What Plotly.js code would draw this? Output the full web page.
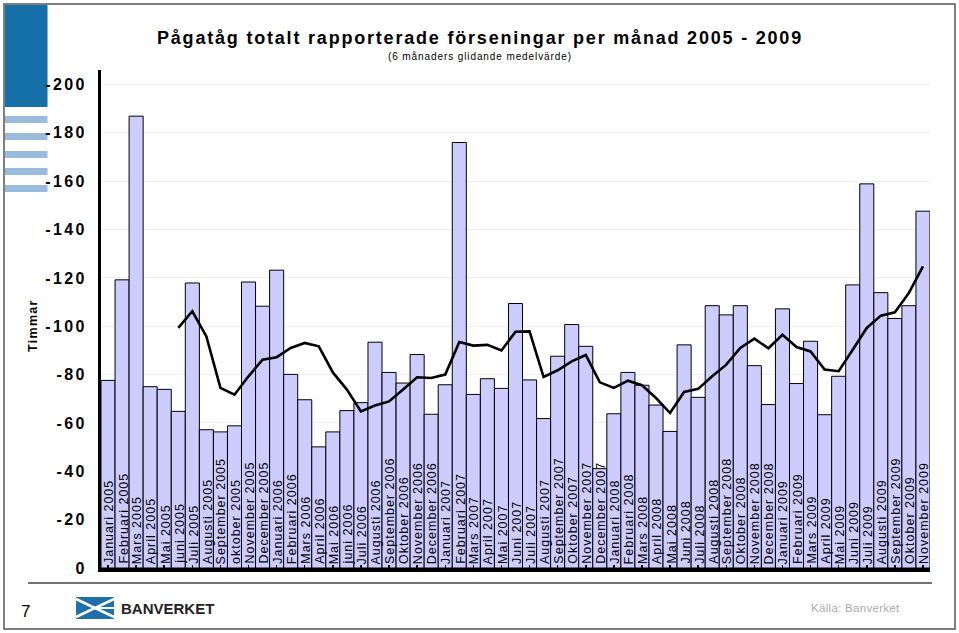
<!DOCTYPE html>
<html>
<head>
<meta charset="utf-8">
<script src="https://cdn.plot.ly/plotly-3.0.1.min.js"></script>
<style>
html,body{margin:0;padding:0;background:#fff;}
#chart{width:959px;height:633px;}
</style>
</head>
<body>
<div id="chart"></div>
<script>
const months = [
  "Januari 2005","Februari 2005","Mars 2005","April 2005","Mai 2005","juni 2005","Juli 2005","Augusti 2005","September 2005","oktober 2005","November 2005","December 2005",
  "Januari 2006","Februari 2006","Mars 2006","April 2006","Mai 2006","juni 2006","Juli 2006","Augusti 2006","September 2006","Oktober 2006","November 2006","December 2006",
  "Januari 2007","Februari 2007","Mars 2007","April 2007","Mai 2007","Juni 2007","Juli 2007","Augusti 2007","September 2007","Oktober 2007","November 2007","December 2007",
  "Januari 2008","Februari 2008","Mars 2008","April 2008","Mai 2008","Juni 2008","Juli 2008","Augusti 2008","September 2008","Oktober 2008","November 2008","December 2008",
  "Januari 2009","Februari 2009","Mars 2009","April 2009","Mai 2009","Juni 2009","Juli 2009","Augusti 2009","September 2009","Oktober 2009","November 2009"
];
const delayHours = [
  77.6,119.2,186.9,75.0,73.9,64.8,117.9,57.2,56.3,58.8,118.3,108.3,
  123.2,80.1,69.6,50.1,56.3,65.1,68.4,93.4,80.9,76.5,88.3,63.6,
  75.8,176.0,71.8,78.3,74.3,109.4,77.8,61.8,87.6,100.7,91.7,41.1,
  63.8,80.9,75.6,67.4,56.5,92.3,70.6,108.5,104.7,108.5,83.7,67.6,
  107.2,76.3,93.8,63.4,79.3,117.1,158.9,113.9,103.2,108.5,147.6
];
const movingAvg = [
  null,null,null,null,null,99.3,106.2,95.8,74.5,71.7,79.3,86.2,
  87.2,91.0,93.1,91.7,80.9,73.8,64.8,67.2,68.9,73.8,78.9,78.6,
  80.0,93.5,92.0,92.3,90.0,97.7,97.9,79.0,81.8,85.5,88.1,76.8,
  74.5,77.5,75.6,70.3,64.1,72.8,74.1,79.3,84.1,91.0,94.9,90.9,
  96.5,91.4,89.6,82.1,81.4,90.3,99.3,104.4,105.8,113.8,124.8
];
const yTickVals = [0,20,40,60,80,100,120,140,160,180,200];
const yTickText = ["0","-20","-40","-60","-80","-100","-120","-140","-160","-180","-200"];

const FONT = "Liberation Sans, Arial, sans-serif";
const W = 959, H = 633, L = 101, R = 29, T = 70, B = 65;
const PW = W - L - R, PH = H - T - B;
const px = v => (v - L) / PW;
const py = v => (H - B - v) / PH;
const ls = (t, s) => '<span style="letter-spacing:' + s + 'px">' + t + '</span>';

const bars = {
  type: 'bar',
  x: months,
  y: delayHours,
  marker: {color: '#ccccff', line: {color: '#000', width: 1}},
  hoverinfo: 'none'
};
const line = {
  type: 'scatter',
  mode: 'lines',
  x: months,
  y: movingAvg,
  line: {color: '#000', width: 2.6},
  connectgaps: false,
  hoverinfo: 'none'
};

const shapes = [
  {type:'rect', xref:'paper', yref:'paper', x0:px(4), x1:px(955), y0:py(4), y1:py(629), line:{color:'#555', width:1.5}, fillcolor:'rgba(0,0,0,0)', layer:'below'},
  {type:'rect', xref:'paper', yref:'paper', x0:px(5), x1:px(47.5), y0:py(5), y1:py(107), line:{width:0}, fillcolor:'#1570a8', layer:'below'},
  {type:'line', xref:'paper', yref:'paper', x0:px(28), x1:px(932), y0:py(583), y1:py(583), line:{color:'#444', width:1.5}},
  {type:'rect', xref:'paper', yref:'paper', x0:px(76), x1:px(114), y0:py(597), y1:py(619), line:{width:0}, fillcolor:'#1f70aa'},
  {type:'path', xref:'paper', yref:'paper', path:'M '+px(76)+','+py(599)+' L '+px(95)+','+py(608)+' L '+px(76)+','+py(617), line:{color:'#fff', width:2.5}},
  {type:'path', xref:'paper', yref:'paper', path:'M '+px(114)+','+py(599)+' L '+px(95)+','+py(608)+' L '+px(114)+','+py(617), line:{color:'#fff', width:2.5}},
  {type:'line', xref:'paper', yref:'paper', x0:px(95), x1:px(114), y0:py(608), y1:py(608), line:{color:'#fff', width:2}}
];
[[116,123],[133,140],[151,158],[168,175],[185,192]].forEach(s => {
  shapes.push({type:'rect', xref:'paper', yref:'paper', x0:px(5), x1:px(47.5), y0:py(s[0]), y1:py(s[1]), line:{width:0}, fillcolor:'#98bbde', layer:'below'});
});

const annotations = [
  {text: ls('(6 månaders glidande medelvärde)', 0.9), xref:'paper', yref:'paper', x:px(480), y:py(57), xanchor:'center', yanchor:'middle', showarrow:false, font:{family:FONT, size:10, color:'#000'}},
  {text: ls('Timmar', 1.3), xref:'paper', yref:'paper', x:px(33), y:py(326), xanchor:'center', yanchor:'middle', textangle:-90, showarrow:false, font:{family:FONT, size:12.5, color:'#000', weight:'bold'}},
  {text: '7', xref:'paper', yref:'paper', x:px(25), y:py(611), xanchor:'center', yanchor:'middle', showarrow:false, font:{family:FONT, size:17, color:'#000'}},
  {text: 'BANVERKET', xref:'paper', yref:'paper', x:px(119), y:py(608), xanchor:'left', yanchor:'middle', showarrow:false, font:{family:FONT, size:15, color:'#222', weight:'bold'}},
  {text: ls('Källa: Banverket', 0.3), xref:'paper', yref:'paper', x:px(855), y:py(608), xanchor:'center', yanchor:'middle', showarrow:false, font:{family:FONT, size:11.5, color:'#aaaaaa'}}
];
months.forEach(m => {
  annotations.push({text: ls(m, 1), x: m, y: 0, xref: 'x', yref: 'y', xanchor: 'center', yanchor: 'bottom',
    textangle: -90, showarrow: false, yshift: 3, xshift: 1, borderpad: 0,
    font: {family: FONT, size: 12.5, color: '#000'}});
});

const layout = {
  width: W, height: H,
  margin: {l: L, r: R, t: T, b: B, pad: 0},
  paper_bgcolor: '#fff', plot_bgcolor: '#fff',
  showlegend: false,
  bargap: 0,
  font: {family: FONT, color: '#000'},
  title: {
    text: ls('Pågatåg totalt rapporterade förseningar per månad 2005 - 2009', 1.8),
    font: {family: FONT, size: 18, color: '#000', weight: 'bold'},
    xref: 'container', yref: 'container',
    x: 480 / W, xanchor: 'center',
    y: 1 - 38 / H, yanchor: 'middle'
  },
  xaxis: {
    type: 'category',
    range: [-0.5, months.length - 0.5],
    showticklabels: false,
    ticks: 'inside', ticklen: 3, tickwidth: 1.5, tickcolor: '#000',
    showline: true, linecolor: '#000', linewidth: 4,
    showgrid: false, zeroline: false, fixedrange: true
  },
  yaxis: {
    range: [0, 206],
    tickvals: yTickVals,
    ticktext: yTickText.map(t => ls(t, 2.4)),
    tickfont: {family: FONT, size: 16, color: '#000', weight: 'bold'},
    ticks: '',
    ticklabelstandoff: 8,
    showline: true, linecolor: '#000', linewidth: 3,
    showgrid: true, gridcolor: '#efefef', gridwidth: 1,
    zeroline: false, fixedrange: true
  },
  shapes: shapes,
  annotations: annotations
};

Plotly.newPlot('chart', [bars, line], layout, {displayModeBar: false, staticPlot: true});
</script>
</body>
</html>
